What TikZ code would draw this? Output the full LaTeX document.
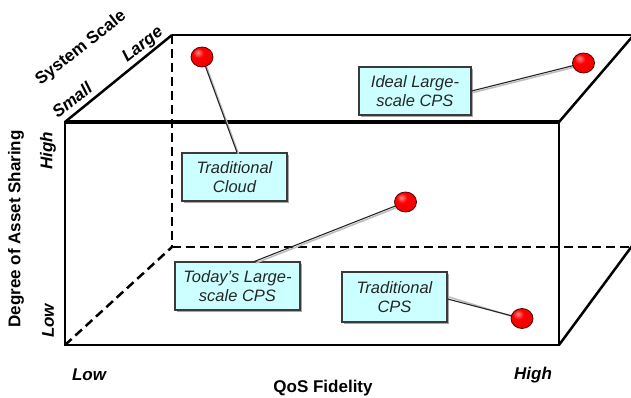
\documentclass[tikz,border=0pt]{standalone}
\usepackage{fontspec}
\setmainfont{Liberation Sans}
\usetikzlibrary{shapes.geometric,shadows,calc}

\definecolor{boxfill}{HTML}{CCFFFF}
\definecolor{boxline}{HTML}{3A3A3A}
\definecolor{boxtext}{HTML}{262626}

% glossy red marker: bright core, light spot towards the upper left, darker rim
\pgfdeclareradialshading{redball}{\pgfpoint{-10bp}{12bp}}{%
  color(0bp)=(red!45!white); color(12bp)=(red); color(36bp)=(red!92!black);
  color(50bp)=(red!70!black); color(70bp)=(red!60!black)}

\tikzset{
  edge/.style={line width=2.5pt, black},
  topedge/.style={line width=3.4pt, black},
  hidden/.style={line width=2.5pt, black, dash pattern=on 9pt off 5pt},
  axislabel/.style={font=\bfseries\fontsize{17}{20}\selectfont, inner sep=0pt},
  ticklabel/.style={font=\bfseries\itshape\fontsize{17}{20}\selectfont, inner sep=0pt},
  callout/.style={draw=boxline, line width=1.2pt, fill=boxfill, text=boxtext,
    font=\itshape\fontsize{16.5}{19.5}\selectfont, align=center,
    minimum height=48pt, inner sep=2pt,
    drop shadow={shadow xshift=2pt, shadow yshift=-2pt, fill=black, opacity=.35}},
  leader/.style={line width=1.1pt, black!85},
  leadershadow/.style={line width=1.6pt, black!25},
  ball/.style={ellipse, minimum width=22pt, minimum height=20pt, inner sep=0pt,
    draw=red!35!black, line width=0.8pt, shading=redball},
}

\begin{document}
\begin{tikzpicture}[x=1pt, y=-1pt]
  \useasboundingbox (0,0) rectangle (631,398);
  \clip (0,0) rectangle (631,398);

  % corners of the box
  \coordinate (fbl) at (65,345);
  \coordinate (fbr) at (559,345);
  \coordinate (ftl) at (65,122);
  \coordinate (ftr) at (559,122);
  \coordinate (bbl) at (172,247);
  \coordinate (btl) at (172,35);
  \coordinate (btr) at (633,35);
  \coordinate (bbr) at (633,247);
  \coordinate (btrd) at (632,37);
  \coordinate (bbrd) at (632,246);

  % hidden edges
  \draw[hidden] (btl) -- (bbl);
  \draw[hidden] (bbl) -- (bbr);
  \draw[hidden] (fbl) -- (bbl);

  % visible edges
  \draw[edge] (btl) -- (btr);
  \draw[edge] (ftl) -- (btl);
  \draw[edge] (ftr) -- (btrd);
  \draw[edge] (fbr) -- (bbrd);
  \draw[edge, line cap=rect] (ftl) -- (fbl) -- (fbr) -- (ftr);
  \draw[topedge] (ftl) -- (ftr);

  % axis labels
  \node[axislabel, rotate=38] (sys) at (81,48) {System Scale};
  \node[ticklabel, rotate=38] (small) at (72,100) {Small};
  \node[ticklabel, rotate=38] (large) at (143,45) {Large};
  \node[axislabel, rotate=90] (share) at (16,229) {Degree of Asset Sharing};
  \node[ticklabel, rotate=90] (shhigh) at (48,151) {High};
  \node[ticklabel, rotate=90] (shlow) at (48,321) {Low};
  \node[ticklabel] (qlow) at (89,375) {Low};
  \node[ticklabel] (qhigh) at (533,375) {High};
  \node[axislabel] (qos) at (323,388) {QoS Fidelity};

  % callouts
  \node[callout, minimum width=105pt] (cloud) at (234.5,177) {Traditional\\Cloud};
  \node[callout, minimum width=112pt] (ideal) at (415,91) {Ideal Large-\\scale CPS};
  \node[callout, minimum width=125pt] (today) at (237.5,286) {Today’s Large-\\scale CPS};
  \node[callout, minimum width=105pt, minimum height=50pt] (tcps) at (394.5,297) {Traditional\\CPS};

  % ball positions
  \coordinate (p1) at (202,57);
  \coordinate (p2) at (583.5,63);
  \coordinate (p3) at (405.5,202);
  \coordinate (p4) at (522,318.5);

  % leader lines with a soft shadow
  \draw[leadershadow] ([shift={(1.5,1.5)}]p1) -- ([shift={(4,1.5)}]cloud.north);
  \draw[leadershadow] ([shift={(1.5,1.5)}]p2) -- ([shift={(1.5,1.5)}]ideal.east);
  \draw[leadershadow] ([shift={(1.5,1.5)}]p3) -- ([shift={(18.5,1.5)}]today.north);
  \draw[leadershadow] ([shift={(1.5,1.5)}]p4) -- ([shift={(1.5,0)}]tcps.east);
  \draw[leader] (p1) -- ([xshift=2.5pt]cloud.north);
  \draw[leader] (p2) -- (ideal.east);
  \draw[leader] (p3) -- ([xshift=17pt]today.north);
  \draw[leader] (p4) -- ([yshift=-2pt]tcps.east);

  % balls
  \node[ball] (b1) at (p1) {};
  \node[ball] (b2) at (p2) {};
  \node[ball] (b3) at (p3) {};
  \node[ball] (b4) at (p4) {};
\end{tikzpicture}
\end{document}
